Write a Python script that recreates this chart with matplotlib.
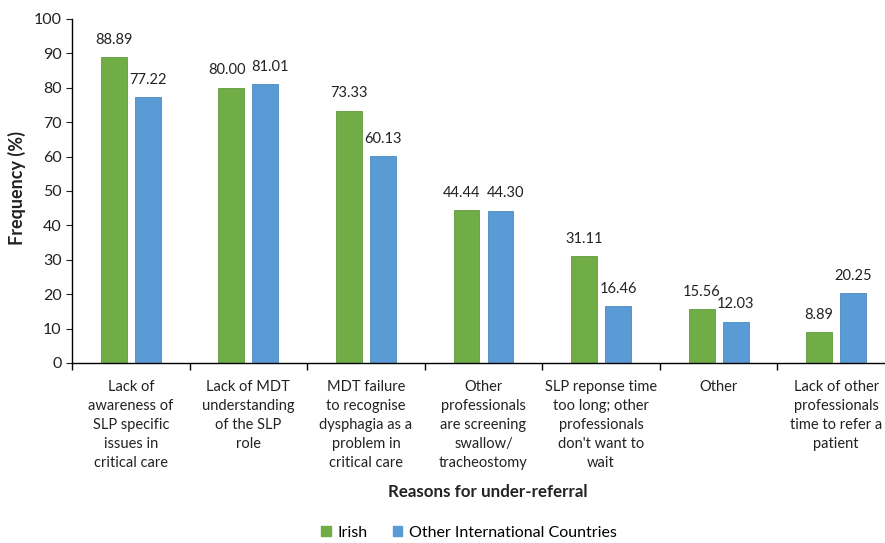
import numpy as np
import matplotlib.pyplot as plt
from matplotlib.patches import Patch

categories = [
    "Lack of\nawareness of\nSLP specific\nissues in\ncritical care",
    "Lack of MDT\nunderstanding\nof the SLP\nrole",
    "MDT failure\nto recognise\ndysphagia as a\nproblem in\ncritical care",
    "Other\nprofessionals\nare screening\nswallow/\ntracheostomy",
    "SLP reponse time\ntoo long; other\nprofessionals\ndon't want to\nwait",
    "Other",
    "Lack of other\nprofessionals\ntime to refer a\npatient",
]
irish = [88.89, 80.00, 73.33, 44.44, 31.11, 15.56, 8.89]
other_intl = [77.22, 81.01, 60.13, 44.30, 16.46, 12.03, 20.25]
y_ticks = list(range(0, 101, 10))

plt.rcParams['font.family'] = ['Lato', 'DejaVu Sans']

green = '#70AD47'
blue = '#5B9BD5'
text_col = '#222222'

fig = plt.figure(figsize=(8.85, 5.43), dpi=100)
ax = fig.add_axes([72 / 885, 1 - 363 / 543, 823 / 885, 344 / 543])

x = np.arange(len(categories))
w = 0.22
off = 0.145
ax.bar(x - off, irish, w, color=green, edgecolor='#5E9A3A', linewidth=0.6)
ax.bar(x + off, other_intl, w, color=blue, edgecolor='#4A88C0', linewidth=0.6)

# value labels; spread apart a little where both labels sit at the same height
for i in x:
    a, b = irish[i], other_intl[i]
    nudge = 0.04 if abs(a - b) < 3 else 0.0
    ax.text(i - off - nudge, a + 3, f"{a:.2f}", ha='center', va='bottom', fontsize=10.5, color=text_col)
    ax.text(i + off + nudge, b + 3, f"{b:.2f}", ha='center', va='bottom', fontsize=10.5, color=text_col)

ax.set_xlim(-0.5, len(categories) - 0.5)
ax.set_ylim(0, 100)
ax.set_yticks(y_ticks)
ax.tick_params(axis='y', labelsize=11.5, direction='out', length=4, colors=text_col)

# category boundary ticks, labels in centers
ax.set_xticks(np.arange(len(categories) + 1) - 0.5)
ax.set_xticklabels([])
ax.tick_params(axis='x', direction='out', length=5, width=1)
for xi, lab in zip(x, categories):
    ax.text(xi, -5, lab, ha='center', va='top', fontsize=10.5, color=text_col,
            linespacing=1.45)

for s in ['top', 'right']:
    ax.spines[s].set_visible(False)
ax.spines['left'].set_linewidth(1)
ax.spines['bottom'].set_linewidth(1)

fig.text(17 / 885, 1 - 188 / 543, "Frequency (%)", rotation=90, ha='center', va='center',
         fontsize=13, fontweight='bold', color=text_col)
fig.text(488 / 885, 1 - 492 / 543, "Reasons for under-referral", ha='center', va='center',
         fontsize=12.2, fontweight='bold', color=text_col)

handles = [Patch(color=green, label='Irish'), Patch(color=blue, label='Other International Countries')]
fig.legend(handles=handles, loc='center', bbox_to_anchor=(469 / 885, 1 - 533 / 543), ncol=2,
           frameon=False, fontsize=11.5, handlelength=0.6, handleheight=0.6, handletextpad=0.4,
           columnspacing=1.6)

fig.savefig('out.png', dpi=100)
